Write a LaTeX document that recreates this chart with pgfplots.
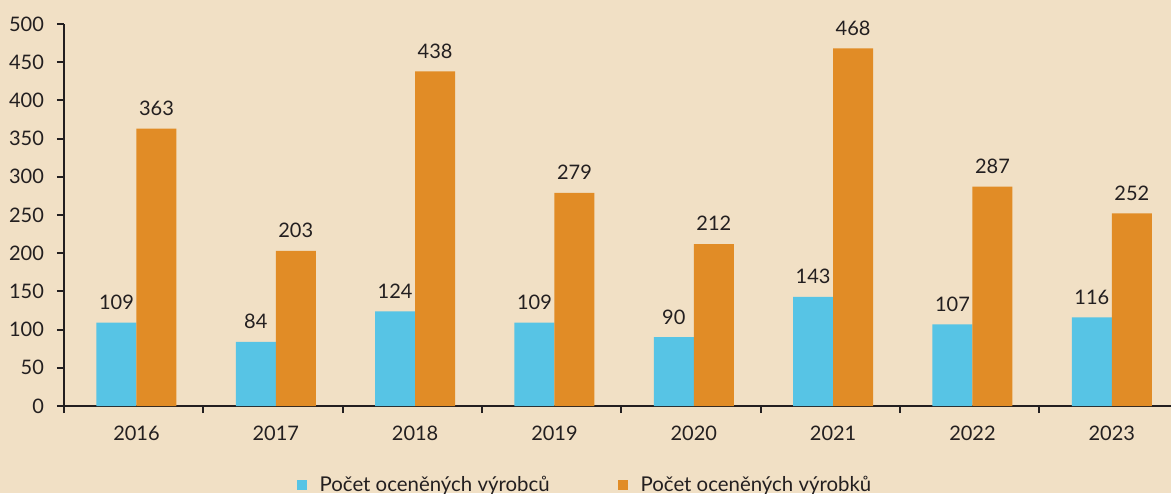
\documentclass[border=0pt]{standalone}
\usepackage{pgfplots}
\pgfplotsset{compat=1.18}
\usepackage{fontspec}
\setmainfont{Lato}
\definecolor{bg}{RGB}{241,224,197}
\definecolor{cyanbar}{RGB}{87,196,229}
\definecolor{orangebar}{RGB}{225,140,38}
\definecolor{ax}{RGB}{35,31,32}
\begin{document}
\begin{tikzpicture}[x=1pt,y=1pt]
\fill[bg] (-32,-43.5) rectangle (553.5,203);
\begin{axis}[at={(0,0)}, anchor=south west, scale only axis,
  width=553.5pt, height=191pt,
  xmin=-0.5, xmax=7.445, ymin=0, ymax=500,
  ybar=0pt, bar width=20pt,
  axis x line=bottom, axis y line=left,
  axis line style={-, line width=1pt, ax},
  tick style={line width=1pt, ax},
  tick align=outside, major tick length=3.5pt,
  ytick={0,50,...,500},
  xtick={-0.5,0.5,1.5,2.5,3.5,4.5,5.5,6.5},
  xticklabels={},
  extra x ticks={0.02,1.02,2.02,3.02,4.02,5.02,6.02,7.02},
  extra x tick labels={2016,2017,2018,2019,2020,2021,2022,2023},
  extra x tick style={major tick length=0pt, tick label style={yshift=-6.5pt}},
  /pgf/number format/assume math mode=true,
  /pgf/number format/1000 sep={},
  tick label style={font=\fontsize{10}{12}\selectfont, text=ax},
  y tick label style={xshift=-3pt},
  nodes near coords,
  nodes near coords style={font=\fontsize{10}{12}\selectfont, text=ax, anchor=south, yshift=3pt},
  legend style={at={(0.4715,-0.207)}, anchor=center, draw=none, fill=none,
    legend columns=2, font=\fontsize{10.2}{12}\selectfont, text=ax,
    /tikz/every odd column/.append style={column sep=4.5pt},
    /tikz/every even column/.append style={column sep=32pt}},
  legend cell align=left,
  clip=false,
]
\addplot[fill=cyanbar, draw=none,
  legend image code/.code={\fill[cyanbar] (0pt,-2.5pt) rectangle (5pt,2.5pt);}]
  coordinates {(0.02,109) (1.02,84) (2.02,124) (3.02,109) (4.02,90) (5.02,143) (6.02,107) (7.02,116)};
\addplot[fill=orangebar, draw=none,
  legend image code/.code={\fill[orangebar] (0pt,-2.5pt) rectangle (5pt,2.5pt);}]
  coordinates {(0.02,363) (1.02,203) (2.02,438) (3.02,279) (4.02,212) (5.02,468) (6.02,287) (7.02,252)};
\legend{Počet oceněných výrobců, Počet oceněných výrobků}
\end{axis}
\pgfresetboundingbox
\useasboundingbox (-32,-43.5) rectangle (553.5,203);
\end{tikzpicture}
\end{document}
